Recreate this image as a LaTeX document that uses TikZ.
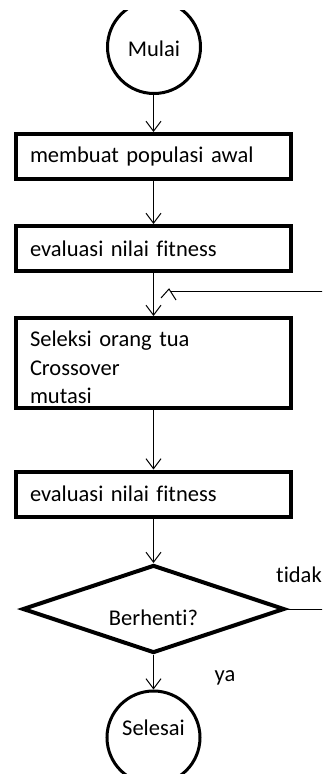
\documentclass[tikz,border=0pt]{standalone}
\usepackage{fontspec}
\setmainfont{Carlito}[Ligatures=NoCommon]
\usetikzlibrary{arrows.meta,shapes.geometric}
\begin{document}
\begin{tikzpicture}[x=1pt,y=-1pt,
 txt/.style={font=\fontsize{22.5}{28.5}\selectfont},
 procbox/.style={draw,line width=4pt,minimum height=45pt,text width=247pt,inner xsep=14pt,align=left,txt},
 term/.style={draw,circle,line width=3pt,minimum size=93pt,inner sep=0pt,txt},
 arr/.style={line width=1pt,-{Straight Barb[length=10pt,width=15pt,line width=1pt]}},
 thin/.style={line width=1pt}
]
\useasboundingbox (0,0) rectangle (322,774);
\clip (0,10) rectangle (322,774);
\node[term,text height=18pt,text depth=0pt] (mulai) at (154,47) {Mulai};
\node[procbox] (b1) at (153.5,156.5) {membuat populasi awal};
\node[procbox] (b2) at (153.5,248.5) {evaluasi nilai fitness};
\node[procbox,minimum height=90pt] (b3) at (153.5,363) {\rule{0pt}{25pt}Seleksi orang tua\\Crossover\\mutasi};
\node[procbox] (b4) at (153.5,494) {evaluasi nilai fitness};
\node[draw,diamond,line width=4pt,minimum width=262pt,minimum height=88pt,inner sep=0pt,aspect=2.98,txt,text height=32pt,text depth=0pt] (dec) at (153.5,609) {Berhenti?};
\node[term,text height=15pt,text depth=20pt] (sel) at (153.5,737.5) {Selesai};
\node[txt] (tidak) at (299,575) {tidak};
\node[txt] (ya) at (225,678) {ya};
\draw[arr] (mulai.south -| b1.north) -- (b1.north);
\draw[arr] (b1.south) -- (b2.north);
\draw[arr] (b2.south) -- (b3.north);
\draw[arr] (b3.south) -- (b4.north);
\draw[arr] (b4.south) -- (dec.north);
\draw[arr] (dec.south) -- (sel.north);
\coordinate (fbend) at (170,291.7);
\coordinate (rt1) at (330,609);
\coordinate (rt2) at (330,291.7);
\draw[thin] (dec.east) -- (rt1) -- (rt2) -- (fbend);
\draw[thin] (161,298) -- (169,289) -- (176,300);
\end{tikzpicture}
\end{document}
